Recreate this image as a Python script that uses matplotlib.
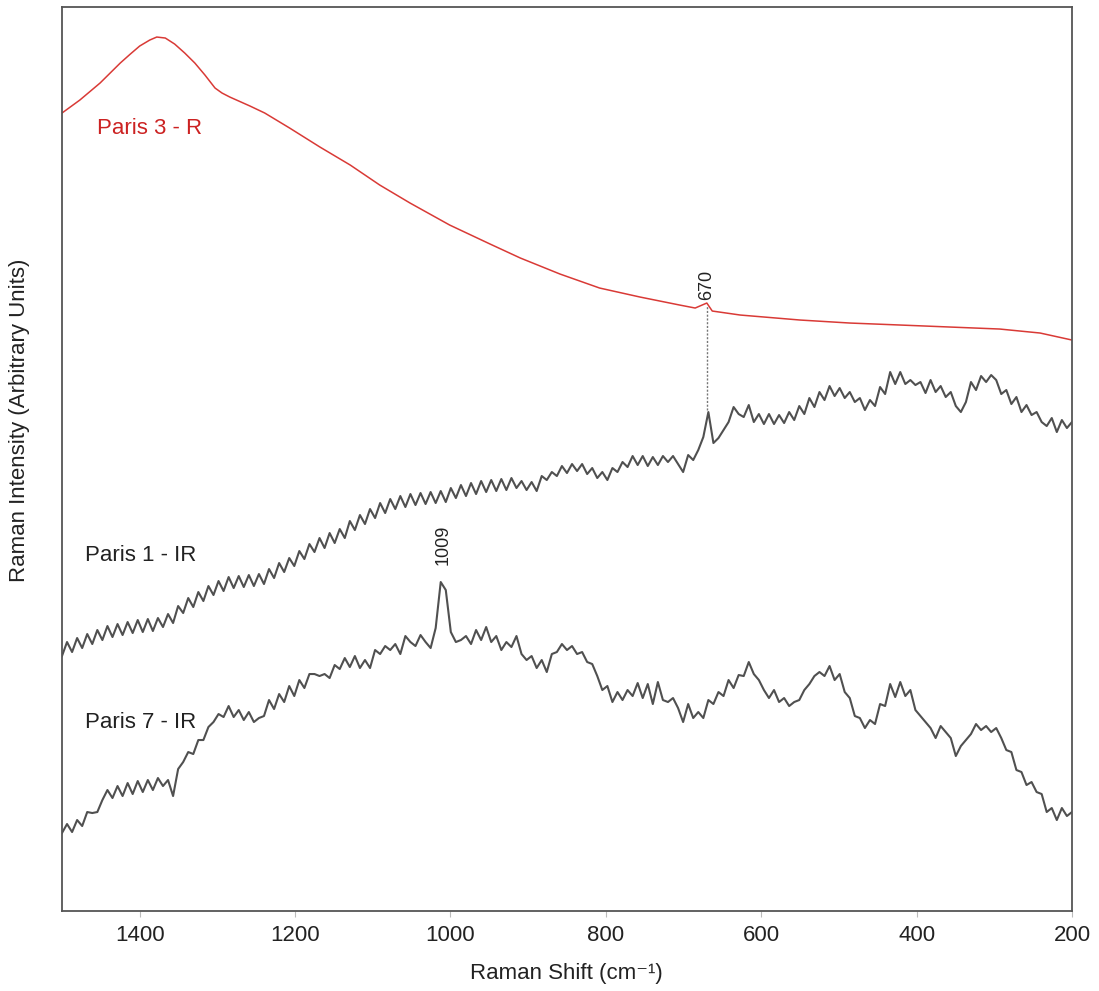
import numpy as np
import matplotlib
matplotlib.use("Agg")
import matplotlib.pyplot as plt

plt.rcParams['font.family'] = ['Liberation Sans', 'DejaVu Sans']

# ---------------- DATA ----------------
# Raman shift grid for the two IR spectra (cm-1)
ir_shift = np.linspace(1500, 200, 201)

# Paris 1 - IR (offset, arbitrary units)
paris1 = [
    256, 270, 260, 274, 264, 278, 268, 282, 272, 286,
    275, 288, 277, 290, 279, 292, 280, 293, 281, 294,
    285, 298, 289, 306, 299, 314, 305, 320, 311, 326,
    317, 331, 321, 335, 324, 336, 325, 337, 326, 338,
    328, 343, 334, 349, 340, 354, 346, 361, 353, 368,
    360, 374, 364, 379, 369, 383, 374, 391, 382, 397,
    388, 403, 394, 409, 399, 413, 403, 416, 405, 418,
    407, 419, 408, 420, 409, 421, 410, 424, 414, 427,
    416, 429, 418, 431, 420, 432, 421, 433, 422, 434,
    424, 431, 422, 430, 421, 436, 432, 440, 436, 446,
    439, 448, 441, 448, 438, 444, 434, 440, 432, 444,
    440, 450, 445, 456, 447, 456, 446, 455, 447, 456,
    450, 456, 448, 440, 457, 452, 462, 475, 500, 469,
    474, 482, 490, 505, 498, 495, 507, 490, 498, 488,
    498, 488, 497, 489, 500, 492, 506, 498, 514, 505,
    520, 512, 526, 516, 524, 514, 520, 510, 514, 502,
    512, 506, 525, 518, 540, 528, 540, 528, 532, 527,
    530, 519, 532, 520, 526, 515, 520, 506, 500, 510,
    530, 522, 536, 530, 537, 532, 518, 522, 508, 515,
    500, 507, 497, 500, 490, 486, 494, 480, 492, 484, 490,
]

# Paris 7 - IR
paris7 = [
    79, 88, 80, 92, 86, 100, 99, 100, 112, 122,
    114, 126, 116, 129, 118, 131, 120, 132, 122, 134,
    126, 132, 116, 143, 150, 160, 158, 172, 172, 185,
    190, 198, 195, 206, 195, 202, 192, 200, 190, 194,
    196, 212, 203, 218, 210, 226, 216, 232, 224, 238,
    238, 236, 238, 234, 247, 243, 254, 245, 256, 244,
    252, 244, 262, 258, 266, 262, 268, 258, 276, 270,
    266, 277, 270, 264, 284, 330, 322, 280, 270, 272,
    276, 268, 282, 272, 285, 270, 276, 262, 270, 265,
    276, 258, 252, 256, 244, 252, 240, 258, 260, 268,
    262, 266, 258, 260, 250, 248, 236, 222, 226, 210,
    220, 212, 222, 216, 229, 214, 228, 208, 230, 212,
    210, 214, 204, 190, 208, 194, 200, 194, 212, 208,
    220, 216, 232, 224, 237, 236, 250, 238, 232, 222,
    214, 222, 210, 214, 206, 210, 212, 222, 228, 236,
    240, 236, 246, 232, 238, 220, 214, 196, 194, 184,
    192, 188, 208, 206, 228, 215, 230, 216, 222, 202,
    196, 190, 184, 174, 186, 180, 174, 156, 166, 172,
    178, 188, 182, 186, 180, 184, 174, 162, 160, 142,
    140, 127, 130, 120, 118, 100, 104, 92, 104, 96, 100,
]

# Paris 3 - R
red_shift = [1500, 1477, 1451, 1425, 1412, 1400, 1387, 1378, 1367, 1355,
             1342, 1329, 1316, 1303, 1294, 1284, 1258, 1239, 1207, 1168,
             1129, 1091, 1052, 1001, 949, 910, 859, 808, 756, 705,
             685, 670, 663, 627, 550, 486, 421, 357, 293, 241, 200]
red_int = [799, 812, 829, 849, 858, 866, 872, 875, 874, 868,
           859, 849, 837, 824, 819, 815, 806, 799, 784, 765,
           747, 727, 709, 687, 668, 654, 638, 624, 615, 607,
           604, 609, 601, 597, 592, 589, 587, 585, 583, 579, 572]

tick_vals = [1400, 1200, 1000, 800, 600, 400, 200]

# ---------------- PLOT ----------------
fig = plt.figure(figsize=(10.99, 9.91), dpi=100)
ax = fig.add_axes([0.0564, 0.0807, 0.919, 0.9122])

ax.plot(red_shift, red_int, color='#d93a36', lw=1.1)
ax.plot(ir_shift, paris1, color='#505050', lw=1.5)
ax.plot(ir_shift, paris7, color='#505050', lw=1.5)

# dotted line linking the 670 band
ax.plot([670, 670], [502, 607], color='#777777', lw=1.0, ls=(0, (1.5, 1.2)))

ax.text(670, 612, '670', rotation=90, ha='center', va='bottom', fontsize=13, color='#222222')
ax.text(1009, 347, '1009', rotation=90, ha='center', va='bottom', fontsize=13, color='#222222')

ax.text(1455, 784, 'Paris 3 - R', color='#cc2222', fontsize=16, va='center')
ax.text(1470, 357, 'Paris 1 - IR', color='#222222', fontsize=16, va='center')
ax.text(1470, 190, 'Paris 7 - IR', color='#222222', fontsize=16, va='center')

ax.set_xlim(1500, 200)
ax.set_ylim(1, 905)
ax.set_xticks(tick_vals)
ax.set_xticklabels([str(v) for v in tick_vals], fontsize=16, color='#222222')
ax.set_yticks([])
ax.tick_params(axis='x', direction='out', length=4, color='#bbbbbb', pad=6)

for s in ax.spines.values():
    s.set_color('#555555')
    s.set_linewidth(1.3)

fig.text(0.515, 0.018, 'Raman Shift (cm\u207b\u00b9)', ha='center', va='center', fontsize=16, color='#222222')
fig.text(0.018, 0.576, 'Raman Intensity (Arbitrary Units)', rotation=90, ha='center', va='center',
         fontsize=16, color='#222222')

fig.savefig('out.png', dpi=100)
